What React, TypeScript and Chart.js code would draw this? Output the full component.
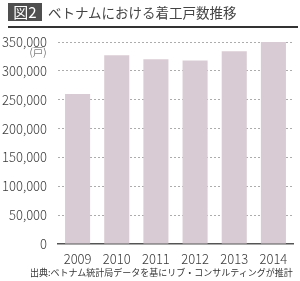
import React, { useEffect, useRef } from "react";
import { Chart, registerables } from "chart.js";

Chart.register(...registerables);

const categories = ["2009", "2010", "2011", "2012", "2013", "2014"];
const starts = [260000, 327000, 320000, 318000, 334000, 350000];
const titleBadge = "図2";
const titleText = "ベトナムにおける着工戸数推移";
const unitLabel = "(戸)";
const sourceText = "出典:ベトナム統計局データを基にリブ・コンサルティングが推計";

const FONT = "'Noto Sans CJK JP', 'Noto Sans', sans-serif";

export default function App() {
  const ref = useRef<HTMLCanvasElement>(null);
  useEffect(() => {
    document.body.style.margin = "0";
    const ctx = ref.current!;
    const chart = new Chart(ctx, {
      type: "bar",
      data: {
        labels: categories,
        datasets: [
          {
            data: starts,
            backgroundColor: "#d9cbd3",
            borderWidth: 0,
            barPercentage: 0.64,
            categoryPercentage: 1,
          },
        ],
      },
      options: {
        animation: false,
        responsive: false,
        devicePixelRatio: 1,
        layout: { padding: { top: 42, right: 7, bottom: 0, left: 0 } },
        plugins: { legend: { display: false }, tooltip: { enabled: false } },
        scales: {
          x: {
            afterFit: (s: any) => { s.height = 37; },
            grid: { display: false, drawTicks: false },
            border: { display: true, color: "#555", width: 1.5 },
            ticks: { color: "#3a3a3a", font: { family: FONT, size: 13, weight: "300" }, padding: 7 },
          },
          y: {
            z: 1,
            min: 0,
            max: 350000,
            afterFit: (s: any) => { s.width = 58; },
            grid: {
              color: (c: any) => (c.tick && c.tick.value === 0 ? "rgba(0,0,0,0)" : "#acacac"),
              lineWidth: 1,
              drawTicks: false,
            },
            border: { display: false, dash: [2, 2] },
            ticks: {
              stepSize: 50000,
              color: "#3a3a3a",
              padding: 11,
              font: { family: FONT, size: 13, weight: "300" },
              callback: (v: any) => Number(v).toLocaleString("en-US"),
            },
          },
        },
      },
    });
    return () => chart.destroy();
  }, []);

  return (
    <div style={{ position: "relative", width: 300, height: 281, fontFamily: FONT, background: "#fff" }}>
      <canvas ref={ref} width={300} height={281} style={{ position: "absolute", left: 0, top: 0 }} />
      <div
        style={{
          position: "absolute", left: 8, top: 3, width: 34, height: 18, background: "#4f4f4f",
          color: "#fff", fontSize: 15, lineHeight: "18px", textAlign: "center",
        }}
      >
        {titleBadge}
      </div>
      <div style={{ position: "absolute", left: 48, top: 3, fontSize: 13.5, lineHeight: "18px", color: "#444", whiteSpace: "nowrap" }}>
        {titleText}
      </div>
      <div style={{ position: "absolute", left: 8, top: 26, width: 290, height: 2, background: "#333" }} />
      <div style={{ position: "absolute", left: 28, top: 46, width: 20, textAlign: "center", fontSize: 10.5, lineHeight: "12px", color: "#444", fontWeight: 300 }}>
        {unitLabel}
      </div>
      <div style={{ position: "absolute", left: 30, top: 266, fontSize: 9, lineHeight: "13px", color: "#333", whiteSpace: "nowrap" }}>
        {sourceText}
      </div>
    </div>
  );
}
